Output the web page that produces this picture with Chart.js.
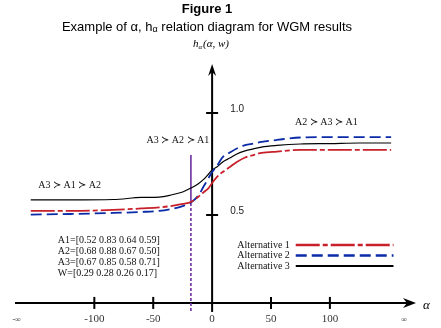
<!DOCTYPE html>
<html><head><meta charset="utf-8">
<script src="https://cdn.jsdelivr.net/npm/chart.js@4/dist/chart.umd.min.js"></script>
<style>html,body{margin:0;padding:0;background:#fff}canvas{display:block}</style>
</head><body>
<canvas id="c" width="441" height="328"></canvas>
<script>
// ---- data ----
const alphaValues = [-154,-120,-84,-60,-45,-35,-25,-18,-12,-7,-3,0,4,9,15,21,28,35,42,55,75,100,125,152];
const alt1 = [0.520,0.520,0.525,0.532,0.537,0.544,0.554,0.564,0.588,0.613,0.632,0.657,0.686,0.711,0.735,0.760,0.782,0.794,0.804,0.811,0.819,0.819,0.819,0.819];
const alt2 = [0.502,0.505,0.510,0.515,0.520,0.529,0.544,0.561,0.593,0.642,0.681,0.711,0.740,0.784,0.806,0.826,0.843,0.850,0.858,0.868,0.880,0.882,0.882,0.882];
const alt3 = [0.574,0.574,0.576,0.586,0.588,0.598,0.613,0.632,0.652,0.676,0.701,0.721,0.735,0.760,0.779,0.799,0.814,0.824,0.833,0.841,0.848,0.850,0.853,0.853];
const seriesNames = ["Alternative 1","Alternative 2","Alternative 3"];
const xTickValues = [-100,-50,0,50,100];
const xTickLabels = ["-100","-50","0","50","100"];
const xTickMarks = [-100,-50,50,100];
const infValues = [-166,163];
const infLabels = ["-\u221E","\u221E"];
const yTickValues = [0.5,1.0];
const yTickLabels = ["0.5","1.0"];
const rankChangeAlpha = -18;
const rankTexts = ["A3 \u227B A1 \u227B A2","A3 \u227B A2 \u227B A1","A2 \u227B A3 \u227B A1"];
const infoLines = ["A1=[0.52 0.83 0.64 0.59]","A2=[0.68 0.88 0.67 0.50]","A3=[0.67 0.85 0.58 0.71]","W=[0.29 0.28 0.26 0.17]"];
const titleText = "Figure 1";
const subtitleParts = ["Example of \u03B1, h","\u03B1"," relation diagram for WGM results"];
const xAxisValue = 0.069;

const SERIF = "'Liberation Serif','Times New Roman',serif";
const SANS = "'Liberation Sans',Arial,sans-serif";

function pts(ys){ return alphaValues.map((a,i)=>({x:a,y:ys[i]})); }

const decor = {
  id:'decor',
  beforeDatasetsDraw(chart){
    const ctx=chart.ctx, xs=chart.scales.x, ys=chart.scales.y;
    const x0=xs.getPixelForValue(0), yA=ys.getPixelForValue(xAxisValue);
    ctx.save();
    ctx.strokeStyle='#000'; ctx.fillStyle='#000'; ctx.lineWidth=2;
    // x axis
    ctx.beginPath(); ctx.moveTo(15,yA); ctx.lineTo(410,yA); ctx.stroke();
    ctx.beginPath(); ctx.moveTo(416,yA); ctx.lineTo(403,yA-5); ctx.lineTo(407,yA); ctx.lineTo(403,yA+5); ctx.closePath(); ctx.fill();
    // y axis
    const yTop=ys.getPixelForValue(1.25);
    ctx.beginPath(); ctx.moveTo(x0,yA+9); ctx.lineTo(x0,yTop+8); ctx.stroke();
    ctx.beginPath(); ctx.moveTo(x0,yTop+2); ctx.lineTo(x0-4,yTop+14); ctx.lineTo(x0,yTop+10); ctx.lineTo(x0+4,yTop+14); ctx.closePath(); ctx.fill();
    // ticks
    xTickMarks.forEach(v=>{const px=xs.getPixelForValue(v); ctx.beginPath(); ctx.moveTo(px,yA-6); ctx.lineTo(px,yA+6); ctx.stroke();});
    yTickValues.forEach(v=>{const py=ys.getPixelForValue(v); ctx.beginPath(); ctx.moveTo(x0-6,py); ctx.lineTo(x0+6,py); ctx.stroke();});
    // purple rank-change line
    const px=xs.getPixelForValue(rankChangeAlpha);
    ctx.strokeStyle='#7030a0'; ctx.lineWidth=1.6;
    ctx.beginPath(); ctx.moveTo(px,155); ctx.lineTo(px,203); ctx.stroke();
    ctx.setLineDash([3,2]);
    ctx.beginPath(); ctx.moveTo(px,203); ctx.lineTo(px,313); ctx.stroke();
    ctx.restore();
  },
  afterDraw(chart){
    const ctx=chart.ctx, xs=chart.scales.x, ys=chart.scales.y;
    const yA=ys.getPixelForValue(xAxisValue), x0=xs.getPixelForValue(0);
    ctx.save();
    ctx.textBaseline='middle';
    // titles
    ctx.fillStyle='#000'; ctx.textAlign='center';
    ctx.font='bold 13px '+SANS; ctx.fillText(titleText,207,9);
    ctx.font='13px '+SANS;
    const w0=ctx.measureText(subtitleParts[0]).width, w2=ctx.measureText(subtitleParts[2]).width;
    ctx.font='9px '+SANS; const w1=ctx.measureText(subtitleParts[1]).width;
    let sx=207-(w0+w1+w2)/2; ctx.textAlign='left';
    ctx.font='13px '+SANS; ctx.fillText(subtitleParts[0],sx,27); sx+=w0;
    ctx.font='9px '+SANS; ctx.fillText(subtitleParts[1],sx,30); sx+=w1;
    ctx.font='13px '+SANS; ctx.fillText(subtitleParts[2],sx,27);
    // y axis name h_alpha(alpha,w)
    ctx.font='italic 11px '+SERIF; ctx.fillText('h',193,44);
    ctx.font='italic 7px '+SERIF; ctx.fillText('\u03B1',198.5,47);
    ctx.font='italic 11px '+SERIF; ctx.fillText('(\u03B1, w)',203,44);
    // x axis name
    ctx.font='italic 13px '+SERIF; ctx.fillText('\u03B1',423,306);
    // x tick labels
    ctx.fillStyle='#333'; ctx.textAlign='center'; ctx.font='11px '+SERIF;
    xTickValues.forEach((v,i)=>ctx.fillText(xTickLabels[i],xs.getPixelForValue(v),yA+16));
    ctx.font='8px '+SERIF;
    infValues.forEach((v,i)=>ctx.fillText(infLabels[i],xs.getPixelForValue(v),yA+17));
    // y tick labels
    ctx.fillStyle='#222'; ctx.font='10px '+SANS;
    yTickValues.forEach((v,i)=>ctx.fillText(yTickLabels[i],x0+25,ys.getPixelForValue(v)-4));
    // ranking texts
    ctx.font='10px '+SERIF; ctx.fillStyle='#111';
    ctx.fillText(rankTexts[0],xs.getPixelForValue(-121),ys.getPixelForValue(0.647));
    ctx.fillText(rankTexts[1],xs.getPixelForValue(-29),ys.getPixelForValue(0.868));
    ctx.fillText(rankTexts[2],xs.getPixelForValue(97),ys.getPixelForValue(0.956));
    // info text
    ctx.textAlign='left';
    infoLines.forEach((t,i)=>ctx.fillText(t,xs.getPixelForValue(-131),ys.getPixelForValue(0.377)+i*11));
    // legend
    chart.data.datasets.forEach((ds,i)=>{
      const y=ys.getPixelForValue(0.353)+i*10.5;
      ctx.textAlign='right'; ctx.fillStyle='#111'; ctx.font='10px '+SERIF;
      ctx.fillText(ds.label,xs.getPixelForValue(66),y);
      ctx.save(); ctx.strokeStyle=ds.borderColor; ctx.lineWidth=ds.legendWidth; ctx.setLineDash(ds.borderDash||[]);
      ctx.beginPath(); ctx.moveTo(xs.getPixelForValue(71),y); ctx.lineTo(xs.getPixelForValue(154),y); ctx.stroke(); ctx.restore();
    });
    ctx.restore();
  }
};

new Chart(document.getElementById('c'),{
  type:'line',
  data:{datasets:[
    {label:seriesNames[0],data:pts(alt1),borderColor:'#c8202a',borderWidth:1.8,borderDash:[24,3,5,3],legendWidth:2.6},
    {label:seriesNames[1],data:pts(alt2),borderColor:'#0a2aa8',borderWidth:1.8,borderDash:[11,5],legendWidth:2.6},
    {label:seriesNames[2],data:pts(alt3),borderColor:'#000000',borderWidth:1.2,legendWidth:1.8}
  ]},
  options:{
    responsive:false, animation:false,
    layout:{padding:{left:6,right:11,top:62,bottom:11}},
    elements:{point:{radius:0},line:{cubicInterpolationMode:'monotone'}},
    plugins:{legend:{display:false},title:{display:false},tooltip:{enabled:false}},
    scales:{
      x:{type:'linear',min:-175,max:185,display:false},
      y:{type:'linear',min:0,max:1.25,display:false}
    }
  },
  plugins:[decor]
});
</script>
</body></html>
